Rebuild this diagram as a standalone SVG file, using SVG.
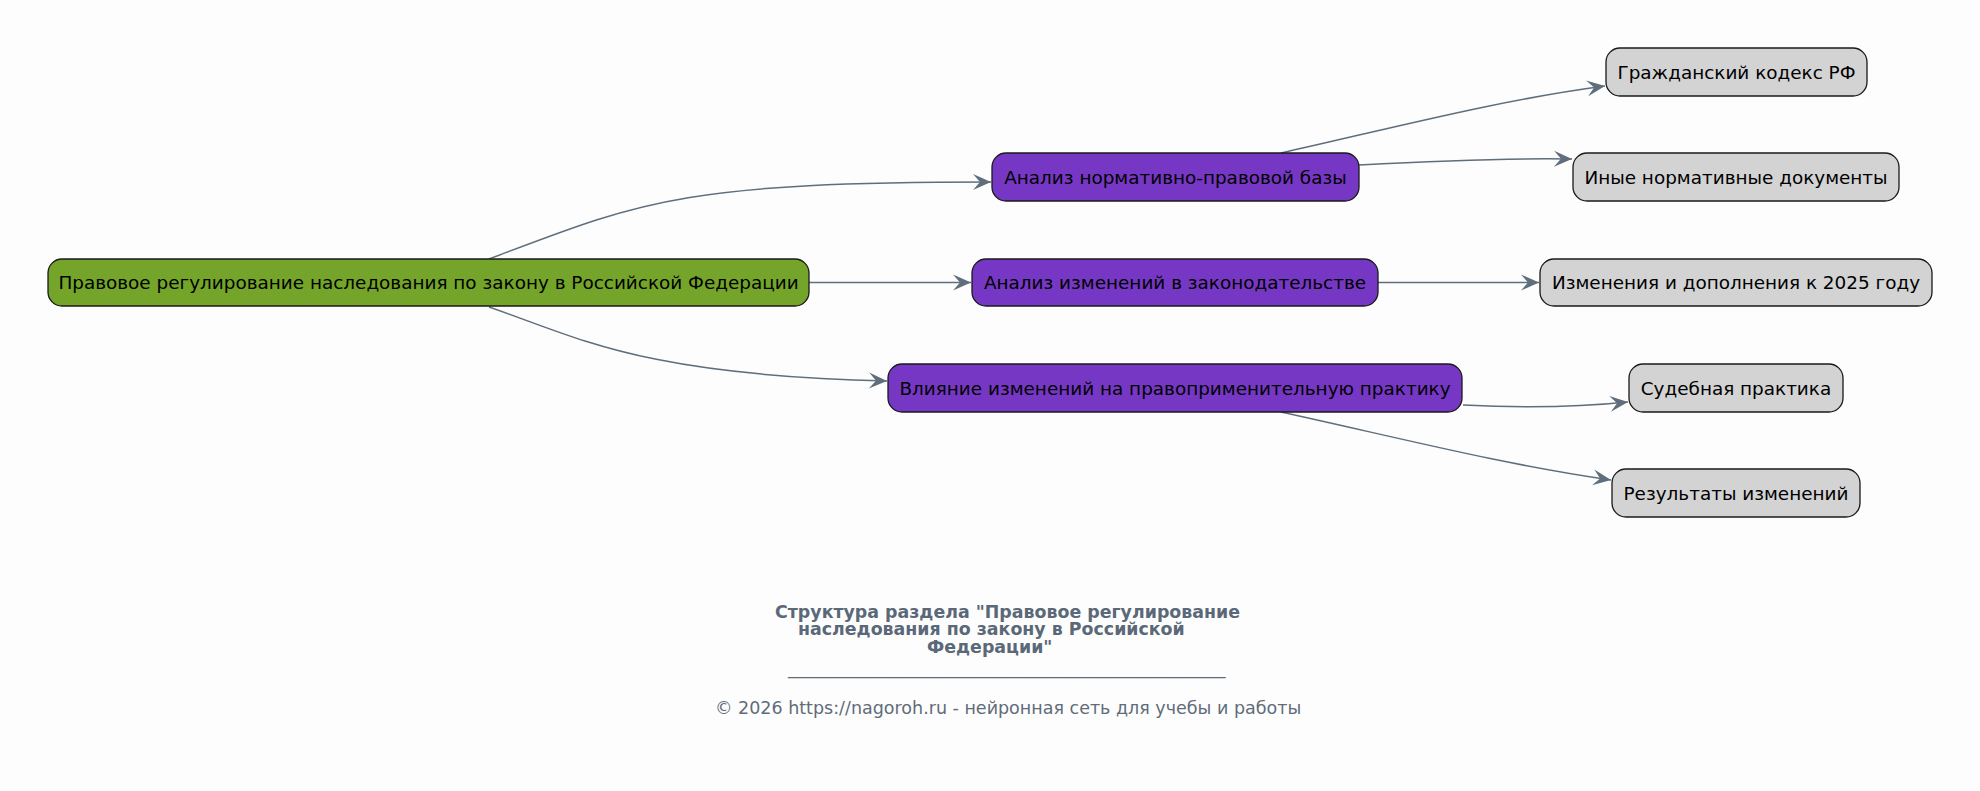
<svg xmlns="http://www.w3.org/2000/svg" width="1980" height="791" viewBox="0 0 1980 791">
<defs>
<style>
.node rect{stroke:#1a1a1a;stroke-width:1.3}
.root rect{fill:#74a52a}
.mid rect{fill:#7638c4}
.leaf rect{fill:#d3d3d3}
.node text{font-family:"DejaVu Sans",sans-serif;font-size:18.4px;fill:#000;text-anchor:middle}
.edge{fill:none;stroke:#5f6e7d;stroke-width:1.5;marker-end:url(#arr)}
.title{font-family:"DejaVu Sans",sans-serif;font-size:17.4px;font-weight:bold;fill:#5a6878}
.foot{font-family:"DejaVu Sans",sans-serif;font-size:17.5px;fill:#5f6c7a}
</style>
<marker id="arr" viewBox="-20 -10 22 20" refX="0" refY="0" markerWidth="22" markerHeight="20" markerUnits="userSpaceOnUse" orient="auto">
<path d="M0,0 L-18,-8 L-11,0 L-18,8 Z" fill="#5f6e7d"/>
</marker>
</defs>
<rect width="1980" height="791" fill="#fdfdfd"/>
<g id="connectors">
<path class="edge" d="M489,259 C640,202 680,182 991,182"/>
<path class="edge" d="M809,282.5 L971,282.5"/>
<path class="edge" d="M489,307 C580,338 640,375 887,381"/>
<path class="edge" d="M1281,153 C1400,126 1500,100 1605,86"/>
<path class="edge" d="M1359,165 C1450,160 1510,158 1572,159"/>
<path class="edge" d="M1378,282.5 L1539,282.5"/>
<path class="edge" d="M1463,405 C1520,408 1570,408 1628,402"/>
<path class="edge" d="M1281,412 C1400,438 1500,464 1611,480"/>
</g>
<g id="n-root" class="node root"><rect x="48" y="259" width="761" height="47" rx="14"/><text x="428.5" y="289">Правовое регулирование наследования по закону в Российской Федерации</text></g>
<g id="n-base" class="node mid"><rect x="992" y="153" width="367" height="48" rx="14"/><text x="1175.5" y="183.5">Анализ нормативно-правовой базы</text></g>
<g id="n-changes" class="node mid"><rect x="972" y="259" width="406" height="47" rx="14"/><text x="1175" y="289">Анализ изменений в законодательстве</text></g>
<g id="n-impact" class="node mid"><rect x="888" y="364" width="574" height="48" rx="14"/><text x="1175" y="394.5">Влияние изменений на правоприменительную практику</text></g>
<g id="n-gk" class="node leaf"><rect x="1606" y="48" width="261" height="48" rx="14"/><text x="1736.5" y="78.5">Гражданский кодекс РФ</text></g>
<g id="n-other" class="node leaf"><rect x="1573" y="153" width="326" height="48" rx="14"/><text x="1736" y="183.5">Иные нормативные документы</text></g>
<g id="n-2025" class="node leaf"><rect x="1540" y="259" width="392" height="47" rx="14"/><text x="1736" y="289">Изменения и дополнения к 2025 году</text></g>
<g id="n-court" class="node leaf"><rect x="1629" y="364" width="214" height="48" rx="14"/><text x="1736" y="394.5">Судебная практика</text></g>
<g id="n-results" class="node leaf"><rect x="1612" y="469" width="248" height="48" rx="14"/><text x="1736" y="499.5">Результаты изменений</text></g>
<g id="caption">
<text class="title" x="775" y="617.5">Структура раздела "Правовое регулирование</text>
<text class="title" x="798" y="635">наследования по закону в Российской</text>
<text class="title" x="927" y="653">Федерации"</text>
<text class="foot" x="788" y="674">__________________________________________________</text>
<text class="foot" x="715" y="713.5">© 2026 https://nagoroh.ru - нейронная сеть для учебы и работы</text>
</g>
</svg>
